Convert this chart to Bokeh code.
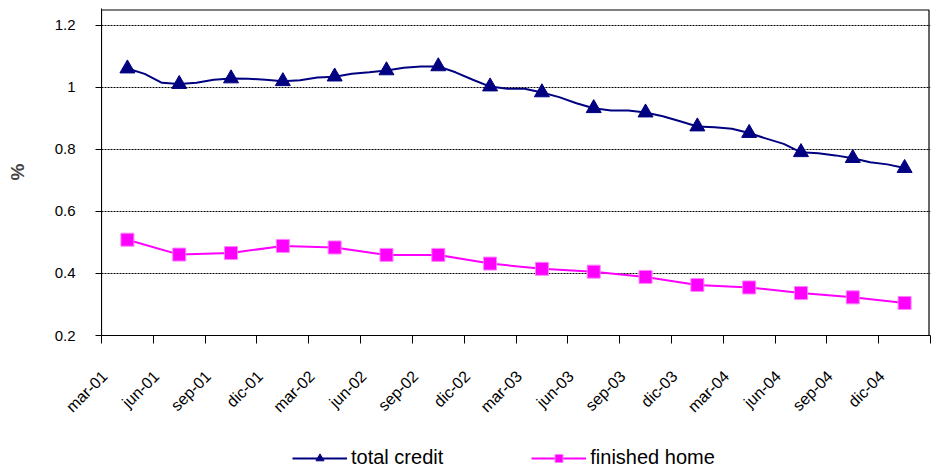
from bokeh.plotting import figure
from bokeh.layouts import column
from bokeh.models import FixedTicker, Legend, LegendItem, Range1d
from bokeh.embed import file_html
from bokeh.resources import INLINE

# ---- data ----
quarter_labels = ["mar-01", "jun-01", "sep-01", "dic-01", "mar-02", "jun-02", "sep-02", "dic-02",
                  "mar-03", "jun-03", "sep-03", "dic-03", "mar-04", "jun-04", "sep-04", "dic-04"]
# total credit: monthly, mar-01 .. dic-04
total_credit = [1.061, 1.044, 1.015, 1.011, 1.015, 1.025, 1.029, 1.028, 1.025, 1.020,
                1.023, 1.032, 1.035, 1.044, 1.049, 1.055, 1.064, 1.068, 1.068, 1.049,
                1.025, 1.003, 0.996, 0.996, 0.984, 0.969, 0.949, 0.933, 0.926, 0.926,
                0.919, 0.907, 0.891, 0.874, 0.872, 0.867, 0.853, 0.835, 0.818, 0.791,
                0.788, 0.781, 0.772, 0.759, 0.752, 0.740]
# finished home: quarterly
finished_home = [0.509, 0.461, 0.466, 0.489, 0.484, 0.460, 0.460, 0.432,
                 0.415, 0.406, 0.389, 0.363, 0.355, 0.337, 0.323, 0.305]
y_ticks = [0.2, 0.4, 0.6, 0.8, 1.0, 1.2]
y_tick_labels = ["0.2", "0.4", "0.6", "0.8", "1", "1.2"]
series_names = ["total credit", "finished home"]

FONT = "Liberation Sans"
NAVY = "#000080"
MAGENTA = "#FF00FF"
SQ_EDGE = "#FF80FF"

n_q = len(quarter_labels)
y_lo, y_hi = 0.2, 1.2548
credit_x = [0.5 + m / 3 for m in range(len(total_credit))]
credit_mx = credit_x[::3]
credit_my = total_credit[::3]
home_x = [i + 0.5 for i in range(n_q)]

p = figure(width=932, height=440,
           min_border_left=101, min_border_right=2, min_border_top=8, min_border_bottom=105,
           x_range=Range1d(0, n_q), y_range=Range1d(y_lo, y_hi),
           output_backend="svg", toolbar_location=None)
p.background_fill_color = "white"
p.border_fill_color = "white"
p.outline_line_color = None

# grid
p.xgrid.visible = False
p.ygrid.ticker = FixedTicker(ticks=y_ticks[1:])
p.ygrid.grid_line_color = "black"
p.ygrid.grid_line_dash = "2 1"
p.ygrid.grid_line_width = 1

# plot-area border, drawn just inside the frame edges so it is not clipped
inset_x = 1.5 / 51.8
inset_y = 1.5 / 310
p.quad(left=0, right=n_q - inset_x, bottom=y_lo, top=y_hi - inset_y,
       fill_alpha=0, line_color="black", line_width=1.2)

# x axis: boundary ticks as minor ticks, labels near boundaries
label_pos = [i + 0.06 for i in range(n_q)]
p.xaxis.ticker = FixedTicker(ticks=label_pos, minor_ticks=list(range(n_q + 1)))
p.xaxis.major_label_overrides = {pos: lab for pos, lab in zip(label_pos, quarter_labels)}
p.xaxis.major_tick_out = 0
p.xaxis.major_tick_in = 0
p.xaxis.minor_tick_out = 8
p.xaxis.minor_tick_in = 0
p.xaxis.minor_tick_line_color = "black"
p.xaxis.axis_line_color = "black"
p.xaxis.major_label_orientation = 0.785398
p.xaxis.major_label_standoff = 30
p.xaxis.major_label_text_font = FONT
p.xaxis.major_label_text_font_size = "16px"
p.xaxis.major_label_text_color = "black"

# y axis
p.yaxis.ticker = FixedTicker(ticks=y_ticks)
p.yaxis.major_label_overrides = {t: s for t, s in zip(y_ticks, y_tick_labels)}
p.yaxis.major_tick_out = 6
p.yaxis.major_tick_in = 0
p.yaxis.minor_tick_out = 0
p.yaxis.minor_tick_in = 0
p.yaxis.major_tick_line_color = "black"
p.yaxis.axis_line_color = "black"
p.yaxis.major_label_standoff = 20
p.yaxis.major_label_text_font = FONT
p.yaxis.major_label_text_font_size = "15px"
p.yaxis.major_label_text_color = "black"
p.yaxis.axis_label = "%"
p.yaxis.axis_label_text_font = FONT
p.yaxis.axis_label_text_font_style = "bold"
p.yaxis.axis_label_text_font_size = "19px"
p.yaxis.axis_label_standoff = 24

# series
p.line(credit_x, total_credit, line_color=NAVY, line_width=2)
p.scatter(credit_mx, credit_my, marker="triangle", size=15, fill_color=NAVY, line_color=NAVY)
p.line(home_x, finished_home, line_color=MAGENTA, line_width=2)
p.scatter(home_x, finished_home, marker="square", size=13, fill_color=MAGENTA,
          line_color=SQ_EDGE, line_width=1)

# legend strip below the chart (its own series copies sit outside its visible range)
leg = figure(width=932, height=31, x_range=Range1d(-n_q - 2, -n_q - 1), y_range=Range1d(0, 1),
             min_border=0, x_axis_location=None, y_axis_location=None,
             output_backend="svg", toolbar_location=None)
leg.outline_line_color = None
leg.grid.visible = False
leg.background_fill_color = "white"
leg.border_fill_color = "white"
r1 = leg.line(credit_x, total_credit, line_color=NAVY, line_width=2)
r1m = leg.scatter(credit_mx, credit_my, marker="triangle", fill_color=NAVY, line_color=NAVY)
r2 = leg.line(home_x, finished_home, line_color=MAGENTA, line_width=2)
r2m = leg.scatter(home_x, finished_home, marker="square", fill_color=MAGENTA, line_color=SQ_EDGE)
legend = Legend(items=[LegendItem(label=series_names[0], renderers=[r1, r1m]),
                       LegendItem(label=series_names[1], renderers=[r2, r2m])],
                orientation="horizontal", location=(191, 2),
                glyph_width=55, glyph_height=20, label_standoff=4, spacing=88,
                padding=0, margin=0, border_line_alpha=0, background_fill_alpha=0,
                label_text_font=FONT, label_text_font_size="20px", label_text_color="black")
leg.add_layout(legend)

page = column(p, leg, spacing=0)
open("out.html", "w").write(file_html(page, INLINE))
